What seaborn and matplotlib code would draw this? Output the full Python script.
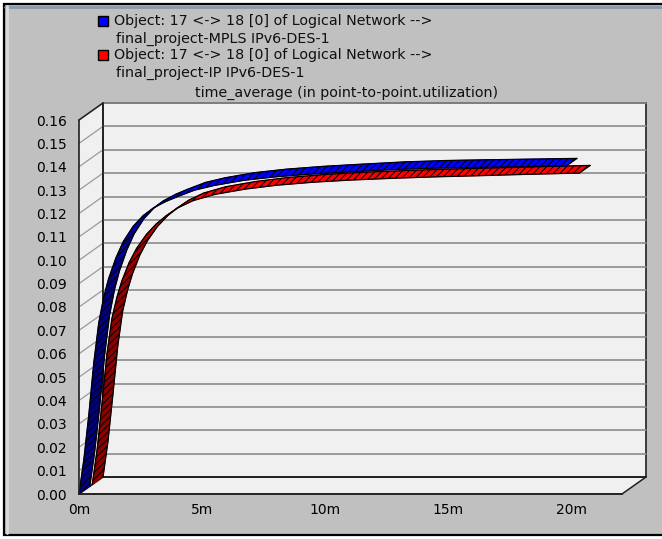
import numpy as np
import pandas as pd
import matplotlib
matplotlib.use("Agg")
import matplotlib.pyplot as plt
import seaborn as sns
from matplotlib.collections import PolyCollection
from matplotlib.patches import Rectangle, Polygon
from matplotlib.colors import to_rgb

# ---------------- data ----------------
legend_labels = [
    ("Object: 17 <-> 18 [0] of Logical Network -->", "final_project-MPLS IPv6-DES-1"),
    ("Object: 17 <-> 18 [0] of Logical Network -->", "final_project-IP IPv6-DES-1"),
]
title = "time_average (in point-to-point.utilization)"

mpls_t = [0, 0.2, 0.4, 0.6, 0.8, 1.0, 1.2, 1.5, 1.8, 2.2, 2.6, 3.0, 3.5, 4.0, 4.7,
          5.5, 6.7, 8.0, 9.5, 11.0, 12.8, 14.5, 16.1, 18.0, 19.8]
mpls_v = [0, 0.015, 0.034, 0.056, 0.073, 0.084, 0.092, 0.101, 0.108, 0.1145, 0.1190,
          0.1222, 0.1250, 0.1272, 0.1300, 0.1320, 0.1342, 0.1357, 0.1369, 0.1378,
          0.1388, 0.1394, 0.1397, 0.1400, 0.1403]

ip_t = [0, 0.2, 0.4, 0.6, 0.8, 1.0, 1.2, 1.5, 1.8, 2.2, 2.6, 3.0, 3.5, 4.1, 5.0,
        6.2, 7.5, 9.0, 10.5, 12.3, 14.0, 15.5, 17.5, 19.8]
ip_v = [0, 0.015, 0.035, 0.056, 0.071, 0.080, 0.087, 0.095, 0.101, 0.107, 0.1115,
        0.1150, 0.1185, 0.1215, 0.1242, 0.1264, 0.1281, 0.1294, 0.1303, 0.1311,
        0.1317, 0.1321, 0.1327, 0.1333]

y_ticks = [round(0.01 * i, 2) for i in range(17)]
y_tick_labels = [f"{v:.2f}" for v in y_ticks]
x_ticks = [0, 5, 10, 15, 20]
x_tick_labels = ["0m", "5m", "10m", "15m", "20m"]

# ---------------- style ----------------
sns.set_style("white")
plt.rcParams["font.family"] = ["DejaVu Sans"]
plt.rcParams["hatch.linewidth"] = 0.7

W, H = 662, 539
fig = plt.figure(figsize=(W / 100, H / 100), dpi=100, facecolor="white")

def fx(px):
    return px / W

def fy(py):
    return 1 - py / H

PANEL = "#c0c0c0"
WALL = "#f0f0f0"
GRID = "#8c8c8c"
EDGE = "#202020"

# outer panel frame
fig.patches.append(Rectangle((fx(4), fy(535)), fx(700) - fx(4), fy(4) - fy(535),
                             transform=fig.transFigure, facecolor=PANEL,
                             edgecolor="black", lw=1.6, zorder=0))
fig.add_artist(plt.Line2D([fx(5), 1], [fy(6.5), fy(6.5)], transform=fig.transFigure,
                          color="#8a98ae", lw=2.0, zorder=0.5))
fig.add_artist(plt.Line2D([fx(6.5), fx(6.5)], [fy(6), fy(533)], transform=fig.transFigure,
                          color="#dcdcdc", lw=2.0, zorder=0.5))

# front plane axes
x0, x1, yb, yt = 79, 622, 494, 120
ax = fig.add_axes([fx(x0), fy(yb), fx(x1) - fx(x0), fy(yt) - fy(yb)])
ax.set_zorder(2)
XMAX = 22.07
YMAX = 0.16
ax.set_xlim(0, XMAX)
ax.set_ylim(0, YMAX)
ax.patch.set_visible(False)
for s in ["top", "right"]:
    ax.spines[s].set_visible(False)
for s in ["left", "bottom"]:
    ax.spines[s].set_color(EDGE)
    ax.spines[s].set_linewidth(1.2)
    ax.spines[s].set_zorder(6)

px_per_x = (x1 - x0) / XMAX
px_per_y = (yb - yt) / YMAX
DX = 24 / px_per_x      # depth offset in data units
DY = 17 / px_per_y

# left wall, floor, back wall
ax.add_patch(Polygon([(0, 0), (DX, DY), (DX, YMAX + DY), (0, YMAX)], closed=True,
                     facecolor=WALL, edgecolor="none", clip_on=False, zorder=1))
ax.add_patch(Polygon([(0, 0), (XMAX, 0), (XMAX + DX, DY), (DX, DY)], closed=True,
                     facecolor=WALL, edgecolor=EDGE, lw=1.1, clip_on=False, zorder=1))
ax.add_patch(Rectangle((DX, DY), XMAX, YMAX, facecolor=WALL, edgecolor=EDGE, lw=1.2,
                       clip_on=False, zorder=1))
for yv in y_ticks[1:]:
    ax.plot([DX, XMAX + DX], [yv + DY, yv + DY], color=GRID, lw=1.2, clip_on=False, zorder=2)
    ax.plot([0, DX], [yv, yv + DY], color="#9a9a9a", lw=0.9, clip_on=False, zorder=2)
ax.plot([0, DX], [YMAX, YMAX + DY], color=EDGE, lw=1.1, clip_on=False, zorder=3)
ax.plot([DX, DX], [DY, YMAX + DY], color=EDGE, lw=1.2, clip_on=False, zorder=3)
ax.plot([DX, XMAX + DX], [DY, DY], color=EDGE, lw=1.2, clip_on=False, zorder=3)


def ribbon(t, v, d1, d2, bright, dark, z):
    t = np.asarray(t, float)
    v = np.asarray(v, float)
    ft, fv = t + d1 * DX, v + d1 * DY
    bt, bv = t + d2 * DX, v + d2 * DY
    quads, cols = [], []
    br, dk = np.array(to_rgb(bright)), np.array(to_rgb(dark))
    for i in range(len(t) - 1):
        quads.append([(ft[i], fv[i]), (ft[i + 1], fv[i + 1]),
                      (bt[i + 1], bv[i + 1]), (bt[i], bv[i])])
        dxp = (t[i + 1] - t[i]) * px_per_x
        dyp = (v[i + 1] - v[i]) * px_per_y
        flat = abs(dxp) / np.hypot(dxp, dyp)
        cols.append(tuple(dk + (br - dk) * flat ** 2))
    pc = PolyCollection(quads, facecolors=cols, edgecolors=cols, linewidths=0.6,
                        clip_on=False, zorder=z)
    ax.add_collection(pc)
    hc = PolyCollection(quads, facecolors="none", edgecolors="black", linewidths=0,
                        hatch="/////", clip_on=False, zorder=z + 0.1)
    ax.add_collection(hc)
    for tt, vv in [(ft, fv), (bt, bv)]:
        df = pd.DataFrame({"t": tt, "v": vv})
        sns.lineplot(data=df, x="t", y="v", ax=ax, color="black", lw=0.9,
                     sort=False, estimator=None, clip_on=False, zorder=z + 0.2)
    ax.plot([ft[-1], bt[-1]], [fv[-1], bv[-1]], color="black", lw=0.9,
            clip_on=False, zorder=z + 0.2)


ribbon(ip_t, ip_v, 0.55, 1.0, "#ff0000", "#8a0000", 4)
ribbon(mpls_t, mpls_v, 0.0, 0.45, "#0000ff", "#00007c", 5)

ax.set_xlabel("")
ax.set_ylabel("")
ax.set_xticks(x_ticks)
ax.set_xticklabels(x_tick_labels)
ax.set_yticks(y_ticks)
ax.set_yticklabels(y_tick_labels)
ax.tick_params(axis="both", which="both", direction="out", colors=EDGE, labelcolor="black",
               labelsize=10, width=1.0)
ax.tick_params(axis="y", length=7, pad=1.5)
ax.tick_params(axis="x", length=4.5, pad=2)
ax.grid(False)

# legend (manual, OPNET-style)
FS = 10.3
sq = 10
for (l1, l2), color, ytop in zip(legend_labels, ["#0000ff", "#ff0000"], [16, 50]):
    fig.patches.append(Rectangle((fx(98), fy(ytop + sq)), fx(sq), fy(0) - fy(sq),
                                 transform=fig.transFigure, facecolor=color,
                                 edgecolor="black", lw=1.0, zorder=3))
    fig.text(fx(114), fy(ytop + sq / 2), l1, fontsize=FS, va="center", ha="left",
             color="#101010", zorder=4)
    fig.text(fx(116), fy(ytop + sq / 2 + 18), l2, fontsize=FS, va="center", ha="left",
             color="#101010", zorder=4)

fig.text(fx(347), fy(93), title, fontsize=FS, ha="center", va="center", color="#101010",
         zorder=4)

fig.savefig("out.png", dpi=100, facecolor="white")
